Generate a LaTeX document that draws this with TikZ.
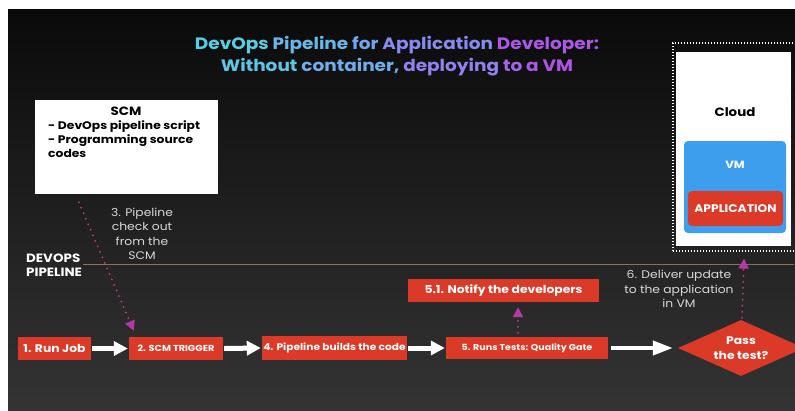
\documentclass[tikz,border=0pt]{standalone}
\usepackage{fontspec}
\setmainfont{Poppins}[FakeStretch=1.12]
\usetikzlibrary{arrows.meta,shapes.geometric,calc}

% palette
\definecolor{bgtop}{HTML}{0A0A0A}
\definecolor{bgbot}{HTML}{343434}
\definecolor{boxred}{HTML}{DA3A27}
\definecolor{vmblue}{HTML}{3E9EEE}
\definecolor{dotpink}{HTML}{C23A8E}
\definecolor{tipmag}{HTML}{B23AA6}
\definecolor{tanline}{HTML}{8C7350}
\definecolor{softwhite}{HTML}{D8D8D8}
% title gradient, cyan to magenta
\definecolor{tA}{RGB}{89,205,227}
\definecolor{tB}{RGB}{95,197,230}
\definecolor{tC}{RGB}{104,182,234}
\definecolor{tD}{RGB}{111,173,237}
\definecolor{tE}{RGB}{116,166,239}
\definecolor{tF}{RGB}{135,138,239}
\definecolor{tG}{RGB}{140,131,238}
\definecolor{tH}{RGB}{160,103,235}
\definecolor{tI}{RGB}{171,87,232}
\definecolor{tJ}{RGB}{175,83,231}

\begin{document}
\begin{tikzpicture}[x=1pt,y=-1pt,
  redbox/.style={fill=boxred, text=white, inner sep=0pt, font=\bfseries},
  fatarrow/.style={draw=white, line width=5pt, -{Triangle[length=14pt,width=14pt]}},
  longarrow/.style={draw=white, line width=4pt, -{Triangle[length=20pt,width=14pt]}},
  dotarrow/.style={draw=dotpink, line width=2pt, line cap=round, dash pattern=on 0pt off 6pt,
    -{Triangle[length=10pt,width=10pt,fill=tipmag,color=tipmag]}},
  plaintext/.style={text=softwhite, align=center, inner sep=0pt, font=\fontsize{11}{14.5}\selectfont},
  boldlabel/.style={text=white, inner sep=0pt, font=\bfseries}
]
\useasboundingbox (0,0) rectangle (795,410);
\clip (0,0) rectangle (795,410);
\fill[white] (0,0) rectangle (795,410);
\shade[top color=bgtop, bottom color=bgbot] (8,9) rectangle (796,411);

% title
\node[align=center, inner sep=0pt, font=\bfseries\fontsize{16.5}{22.5}\selectfont] (title) at (397,56)
  {\textcolor{tA}{DevOps} \textcolor{tC}{Pipeline} \textcolor{tE}{for} \textcolor{tF}{Application} \textcolor{tI}{Developer:}\\
   \textcolor{tB}{Without} \textcolor{tD}{container,} \textcolor{tG}{deploying} \textcolor{tH}{to} \textcolor{tI}{a} \textcolor{tJ}{VM}};

% source control box
\node[fill=white, minimum width=183pt, minimum height=94pt, inner sep=0pt] (scm) at (126.5,147) {};
\node[inner sep=0pt, font=\bfseries\fontsize{12}{14}\selectfont] (scmtitle) at (126,111) {SCM};
\node[anchor=north west, align=left, inner sep=0pt, font=\bfseries\fontsize{11}{14}\selectfont] (scmlist) at (48,120)
  {- DevOps pipeline script\\- Programming source\\codes};

% checkout note
\node[plaintext] (checkout) at (142,234) {3. Pipeline\\check out\\from the\\SCM};

% pipeline divider
\node[boldlabel, anchor=west, align=left, font=\bfseries\fontsize{12}{14}\selectfont] (devops) at (26,265) {DEVOPS\\PIPELINE};
\draw[tanline, line width=1.2pt] (83,264.5) -- (794,264.5);

% cloud
\node[draw=white, line width=1.2pt, dash pattern=on 1pt off 2pt, minimum width=127pt, minimum height=208pt, inner sep=0pt] (cloudframe) at (736.5,147) {};
\node[fill=white, minimum width=115pt, minimum height=194pt, inner sep=0pt] (cloud) at (733,149) {};
\node[inner sep=0pt, font=\bfseries\fontsize{12}{14}\selectfont] (cloudlbl) at (735,112) {Cloud};
\node[fill=vmblue, rounded corners=4pt, minimum width=102pt, minimum height=92pt, inner sep=0pt] (vm) at (735,187) {};
\node[boldlabel, font=\bfseries\fontsize{10.5}{12}\selectfont] (vmlbl) at (735,165) {VM};
\node[redbox, rounded corners=4pt, minimum width=95pt, minimum height=35pt, font=\bfseries\fontsize{11}{13}\selectfont] (app) at (735.5,208.5) {APPLICATION};

% pipeline steps
\node[redbox, minimum width=73pt, minimum height=23pt, font=\bfseries\fontsize{11}{13}\selectfont] (run) at (54.5,348.5) {1. Run Job};
\node[redbox, minimum width=94pt, minimum height=23pt, font=\bfseries\fontsize{8.7}{10}\selectfont] (trig) at (176,348.5) {2. SCM TRIGGER};
\node[redbox, minimum width=145pt, minimum height=24pt, font=\bfseries\fontsize{9.5}{11}\selectfont] (build) at (334.5,348) {4. Pipeline builds the code};
\node[redbox, minimum width=162pt, minimum height=22pt, font=\bfseries\fontsize{8.5}{10}\selectfont] (test) at (527,348) {5. Runs Tests: Quality Gate};
\node[diamond, fill=boxred, minimum width=126pt, minimum height=56pt, inner sep=0pt] (pass) at (741,348) {};
\node[boldlabel, align=center, font=\bfseries\fontsize{11}{15}\selectfont] (passlbl) at (741,348) {Pass\\the test?};
\node[redbox, minimum width=191pt, minimum height=23pt, font=\bfseries\fontsize{11}{13}\selectfont] (notify) at (503.5,290.5) {5.1. Notify the developers};

\node[plaintext] (deliver) at (679,289) {6. Deliver update\\to the application\\in VM};

% flow
\draw[fatarrow] ([xshift=1pt]run.east) -- ([xshift=-1pt]trig.west);
\draw[fatarrow] ([xshift=1pt]trig.east) -- ([xshift=-1pt]build.west);
\draw[fatarrow] ([xshift=1pt]build.east) -- ([xshift=-1pt]test.west);
\draw[longarrow] ([xshift=3pt]test.east) -- ([xshift=-5pt]pass.west);

% dotted links
\draw[dotarrow] ([xshift=44pt,yshift=-8pt]scm.south west) -- ([xshift=5pt,yshift=6pt]trig.north west);
\draw[dotarrow] ([xshift=-9pt,yshift=4pt]test.north) -- ([xshift=14.5pt,yshift=-5pt]notify.south);
\draw[dotarrow] ([xshift=1pt,yshift=2pt]pass.north) -- ([xshift=3pt,yshift=-7pt]pass.north |- cloudframe.south);
\end{tikzpicture}
\end{document}
